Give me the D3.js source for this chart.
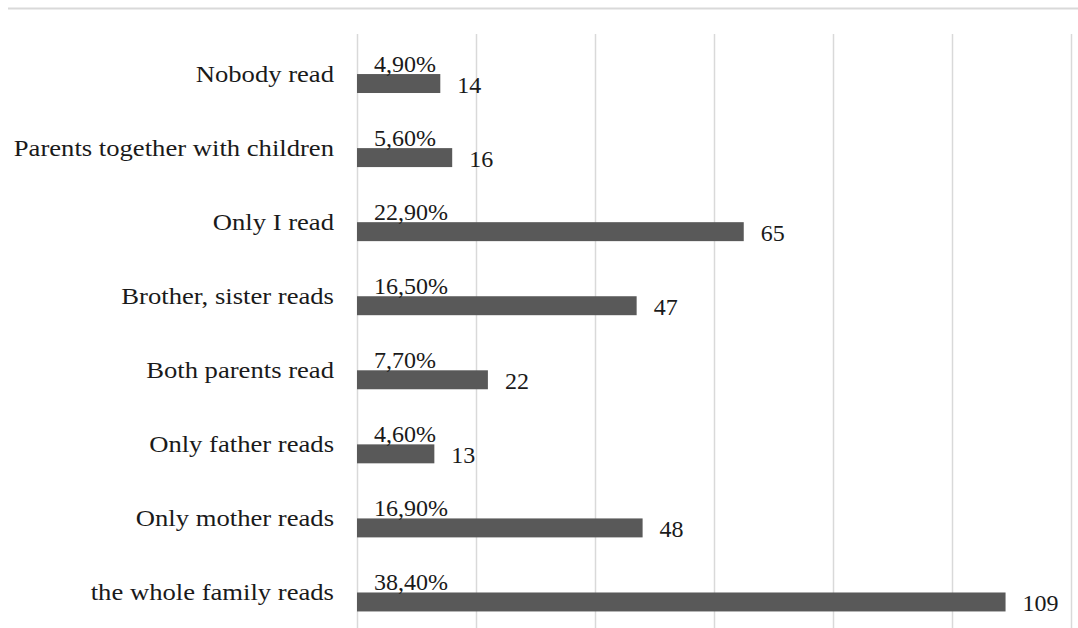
<!DOCTYPE html>
<html>
<head>
<meta charset="utf-8">
<script src="https://cdn.jsdelivr.net/npm/d3@7"></script>
<style>
  html, body { margin: 0; padding: 0; background: #fff; }
  svg { display: block; }
  text { font-family: "Liberation Serif", "Times New Roman", serif; fill: #1a1a1a; }
</style>
</head>
<body>
<svg id="chart" width="1078" height="628"></svg>
<script>
const categories = ["Nobody read", "Parents together with children", "Only I read", "Brother, sister reads", "Both parents read", "Only father reads", "Only mother reads", "the whole family reads"];
const counts = [14, 16, 65, 47, 22, 13, 48, 109];
const percentLabels = ["4,90%", "5,60%", "22,90%", "16,50%", "7,70%", "4,60%", "16,90%", "38,40%"];
const tickValues = [0, 20, 40, 60, 80, 100, 120];

const W = 1078, H = 628;
const svg = d3.select("#chart");

const x = d3.scaleLinear().domain([0, 120]).range([357, 1071]);
const y = d3.scaleBand().domain(categories).range([46.5, 639]).paddingInner(0.744).paddingOuter(0.372);

// top border line
svg.append("line")
  .attr("x1", 8).attr("x2", W).attr("y1", 8.5).attr("y2", 8.5)
  .attr("stroke", "#d9d9d9").attr("stroke-width", 2);

// gridlines via axis
const grid = svg.append("g").attr("transform", `translate(0,${H})`)
  .call(d3.axisTop(x).tickValues(tickValues).tickSize(H - 34).tickFormat(""));
grid.select(".domain").remove();
grid.selectAll(".tick line").attr("stroke", "#d9d9d9").attr("stroke-width", 1.5);

// bars
svg.append("g").selectAll("rect").data(categories).join("rect")
  .attr("x", x(0))
  .attr("y", d => y(d))
  .attr("width", (d, i) => x(counts[i]) - x(0))
  .attr("height", y.bandwidth())
  .attr("fill", "#595959");

// category labels
const sx = 1.11;
svg.append("g").selectAll("text").data(categories).join("text")
  .attr("transform", d => `translate(334,${y(d) + y.bandwidth() / 2 - 1.5}) scale(${sx},1)`)
  .attr("text-anchor", "end")
  .attr("font-size", 24)
  .text(d => d);

// value labels
svg.append("g").selectAll("text").data(categories).join("text")
  .attr("x", (d, i) => x(counts[i]) + 17)
  .attr("y", d => y(d) + y.bandwidth() / 2 + 9)
  .attr("font-size", 24)
  .text((d, i) => counts[i]);

// percent labels
svg.append("g").selectAll("text").data(categories).join("text")
  .attr("x", x(0) + 17)
  .attr("y", d => y(d) - 2)
  .attr("font-size", 24)
  .text((d, i) => percentLabels[i]);
</script>
</body>
</html>
